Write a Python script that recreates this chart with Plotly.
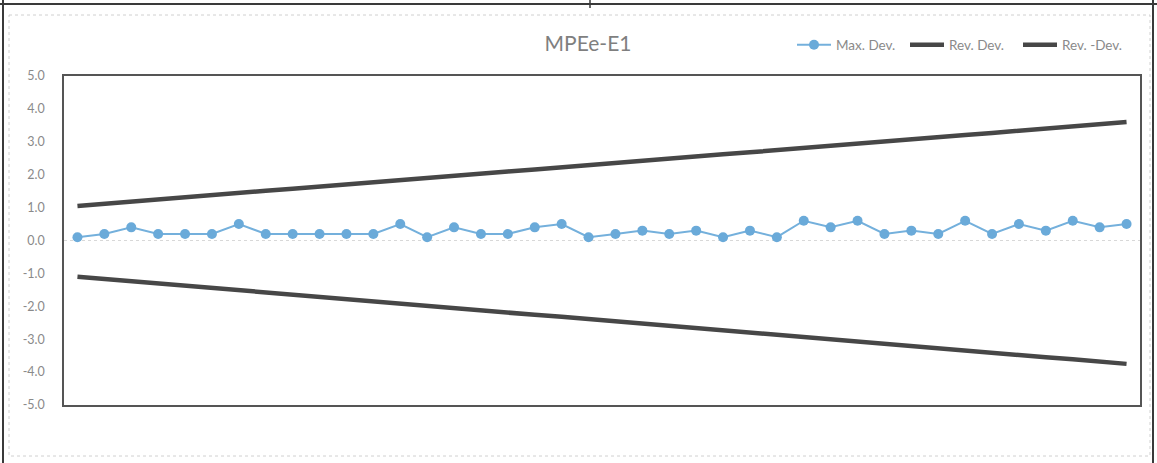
import plotly.graph_objects as go

points = list(range(1, 41))
max_dev = [0.1, 0.2, 0.4, 0.2, 0.2, 0.2, 0.5, 0.2, 0.2, 0.2, 0.2, 0.2, 0.5,
           0.1, 0.4, 0.2, 0.2, 0.4, 0.5, 0.1, 0.2, 0.3, 0.2, 0.3, 0.1, 0.3,
           0.1, 0.6, 0.4, 0.6, 0.2, 0.3, 0.2, 0.6, 0.2, 0.5, 0.3, 0.6, 0.4, 0.5]
rev_dev = [1.05, 1.12, 1.18, 1.25, 1.31, 1.38, 1.44, 1.51, 1.57, 1.64,
           1.70, 1.77, 1.83, 1.90, 1.97, 2.03, 2.10, 2.16, 2.23, 2.29,
           2.36, 2.42, 2.49, 2.55, 2.62, 2.68, 2.75, 2.82, 2.88, 2.95,
           3.01, 3.08, 3.14, 3.21, 3.27, 3.34, 3.40, 3.47, 3.53, 3.60]
rev_neg_dev = [-1.10, -1.17, -1.24, -1.30, -1.37, -1.44, -1.51, -1.58, -1.64, -1.71,
               -1.78, -1.85, -1.92, -1.98, -2.05, -2.12, -2.19, -2.26, -2.32, -2.39,
               -2.46, -2.53, -2.59, -2.66, -2.73, -2.80, -2.87, -2.93, -3.00, -3.07,
               -3.14, -3.21, -3.27, -3.34, -3.41, -3.48, -3.55, -3.61, -3.68, -3.75]
y_ticks = [5.0, 4.0, 3.0, 2.0, 1.0, 0.0, -1.0, -2.0, -3.0, -4.0, -5.0]

FONT = "Lato, 'Open Sans', sans-serif"
W, H = 1157, 463
L, R, T, B = 64, 17, 76, 58
pw, ph = W - L - R, H - T - B

def px(x):
    return (x - L) / pw

def py(y):
    return (H - B - y) / ph

fig = go.Figure()
fig.add_trace(go.Scatter(x=points, y=max_dev, name="Max. Dev.", mode="lines+markers",
                         line=dict(color="#74b0dc", width=2),
                         marker=dict(color="#6aaad9", size=10)))
fig.add_trace(go.Scatter(x=points, y=rev_dev, name="Rev. Dev.", mode="lines",
                         line=dict(color="#474747", width=4.5)))
fig.add_trace(go.Scatter(x=points, y=rev_neg_dev, name="Rev. -Dev.", mode="lines",
                         line=dict(color="#474747", width=4.5)))

shapes = [
    dict(type="line", xref="paper", yref="y", x0=0, x1=1, y0=0, y1=0,
         line=dict(color="#d8d8d8", width=1, dash="dot"), layer="below"),
    dict(type="line", xref="paper", yref="paper", x0=px(0), x1=px(W), y0=py(4), y1=py(4),
         line=dict(color="#3a3a3a", width=2)),
    dict(type="line", xref="paper", yref="paper", x0=px(590), x1=px(590), y0=py(0), y1=py(8),
         line=dict(color="#3a3a3a", width=1.5)),
    dict(type="line", xref="paper", yref="paper", x0=px(3), x1=px(3), y0=py(0), y1=py(H),
         line=dict(color="#3a3a3a", width=2)),
    dict(type="line", xref="paper", yref="paper", x0=px(1153), x1=px(1153), y0=py(0), y1=py(H),
         line=dict(color="#3a3a3a", width=2)),
    dict(type="rect", xref="paper", yref="paper", x0=px(9), x1=px(1150), y0=py(15), y1=py(456),
         line=dict(color="#d0d0d0", width=1, dash="dot")),
]

fig.update_layout(
    width=W, height=H,
    margin=dict(l=L, r=R, t=T, b=B, autoexpand=False),
    paper_bgcolor="white", plot_bgcolor="white",
    font=dict(family=FONT, color="#8a8a8a", size=12),
    title=dict(text="MPEe-E1", x=588 / W, xref="container", xanchor="center",
               y=1 - 44 / H, yref="container", yanchor="middle",
               font=dict(family=FONT, size=21, color="#7f7f7f")),
    showlegend=True,
    legend=dict(orientation="h", x=px(792), xanchor="left", y=py(45), yanchor="middle",
                font=dict(family=FONT, size=13.5, color="#8a8a8a"),
                bgcolor="rgba(0,0,0,0)", itemwidth=34, entrywidth=64, tracegroupgap=0),
    shapes=shapes,
)
fig.update_xaxes(range=[0.5, 40.5], showticklabels=False, ticks="", showgrid=False,
                 zeroline=False, showline=True, linecolor="#555555", linewidth=1.5, mirror=True)
fig.update_yaxes(range=[-5, 5], tickvals=y_ticks, ticktext=[f"{v:.1f}" for v in y_ticks],
                 showgrid=False, zeroline=False, showline=True, linecolor="#555555",
                 linewidth=1.5, mirror=True, ticks="", ticklabelstandoff=15,
                 tickfont=dict(family=FONT, size=12.5, color="#8a8a8a"))

fig.write_html("out.html", config={"displayModeBar": False},
               post_script="document.body.style.margin='0';document.body.style.overflow='hidden';")
